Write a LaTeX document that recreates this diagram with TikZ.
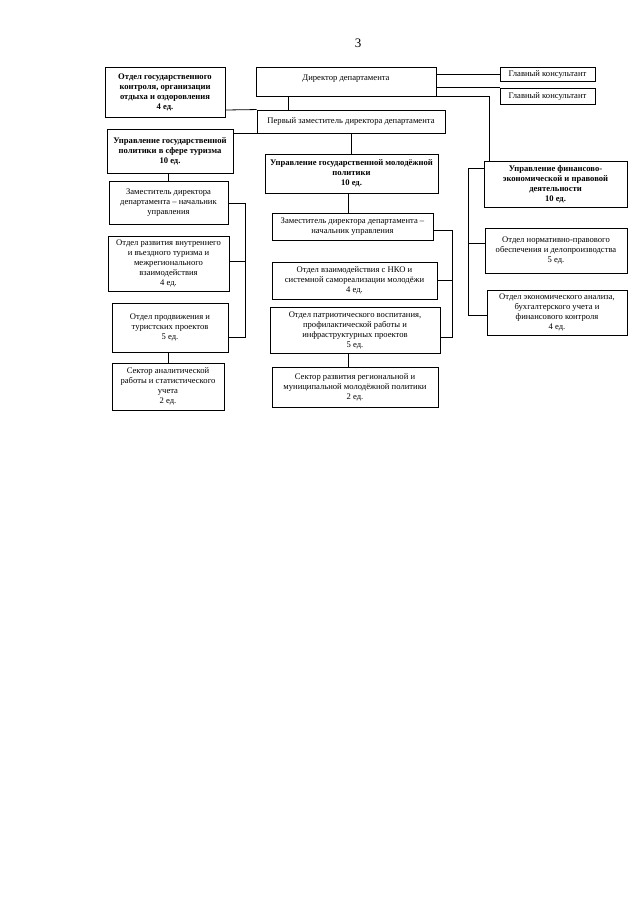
\documentclass[tikz,border=0pt]{standalone}
\usepackage{fontspec}
\setmainfont{Liberation Serif}
\begin{document}
\begin{tikzpicture}[x=1pt,y=-1pt,
  bx/.style={draw, line width=0.9pt, align=center, inner sep=1pt, font=\fontsize{8.6}{10}\selectfont},
  bxb/.style={bx, font=\fontsize{8.6}{10}\selectfont\bfseries},
  ln/.style={line width=0.8pt}]
\useasboundingbox (0,0) rectangle (640,905);
\node[font=\fontsize{13}{13}\selectfont] (pg) at (358,43) {3};
% top row
\node[bxb, minimum width=120, minimum height=50] (box1) at (165,92) {Отдел государственного\\контроля, организации\\отдыха и оздоровления\\4 ед.};
\node[bx, minimum width=180, minimum height=29] (dir) at (346,81.5) {Директор департамента\\[-2pt]};
\node[bx, minimum width=95, minimum height=14] (gk1) at (547.5,74) {Главный консультант};
\node[bx, minimum width=95, minimum height=16] (gk2) at (547.5,96) {Главный консультант};
\node[bx, minimum width=188, minimum height=23] (pz) at (351,121.5) {Первый заместитель директора департамента};
% left column
\node[bxb, minimum width=126, minimum height=44] (tur) at (170,151) {Управление государственной\\политики в сфере туризма\\10 ед.};
\node[bx, minimum width=119, minimum height=43] (tz) at (168.5,202.5) {Заместитель директора\\департамента – начальник\\управления};
\node[bx, minimum width=121, minimum height=55] (tr) at (168.5,263.5) {Отдел развития внутреннего\\и въездного туризма и\\межрегионального\\взаимодействия\\4 ед.};
\node[bx, minimum width=116, minimum height=49] (tp) at (170,327.5) {Отдел продвижения и\\туристских проектов\\5 ед.};
\node[bx, minimum width=112, minimum height=47] (ts) at (168,386.5) {Сектор аналитической\\работы и статистического\\учета\\2 ед.};
% middle column
\node[bxb, minimum width=173, minimum height=39] (mol) at (351.5,173.5) {Управление государственной молодёжной\\политики\\10 ед.};
\node[bx, minimum width=161, minimum height=27] (mz) at (352.5,226.5) {Заместитель директора департамента –\\начальник управления};
\node[bx, minimum width=165, minimum height=37] (mn) at (354.5,280.5) {Отдел взаимодействия с НКО и\\системной самореализации молодёжи\\4 ед.};
\node[bx, minimum width=170, minimum height=46] (mp) at (355,330) {Отдел патриотического воспитания,\\профилактической работы и\\инфраструктурных проектов\\5 ед.};
\node[bx, minimum width=166, minimum height=40] (ms) at (355,387) {Сектор развития региональной и\\муниципальной молодёжной политики\\2 ед.};
% right column
\node[bxb, minimum width=143, minimum height=46] (fin) at (555.5,184) {Управление финансово-\\экономической и правовой\\деятельности\\10 ед.};
\node[bx, minimum width=142, minimum height=45] (fn) at (556,250.5) {Отдел нормативно-правового\\обеспечения и делопроизводства\\5 ед.};
\node[bx, minimum width=140, minimum height=45] (fe) at (557,312.5) {Отдел экономического анализа,\\бухгалтерского учета и\\финансового контроля\\4 ед.};
% helper coordinates
\coordinate (c1) at (288,0);
\coordinate (c2) at (489,0);
\coordinate (b3t) at (468,168);
\coordinate (b3m) at (0,243);
\coordinate (b3b) at (0,315);
\coordinate (c4) at (168,0);
\coordinate (bl) at (245,203);
\coordinate (blm) at (0,261);
\coordinate (blb) at (0,337);
\coordinate (c5) at (348,0);
\coordinate (bm) at (452,230);
\coordinate (bmm) at (0,280);
\coordinate (bmb) at (0,337);
\coordinate (y110) at (0,110);
% connectors
\draw[ln] (box1.east |- y110) -- (pz.north west);
\draw[ln] (tur.east |- pz.south west) -- (pz.south west);
\draw[ln] (dir.south -| c1) -- (pz.north -| c1);
\draw[ln] (pz.south) -- (pz.south |- mol.north);
\draw[ln] (dir.east |- gk1.west) -- (gk1.west);
\draw[ln] (dir.east |- gk2.north west) -- (gk2.north west);
\draw[ln] (dir.south east) -- (dir.south east -| c2) -- (fin.north -| c2);
\draw[ln] (fin.west |- b3t) -- (b3t) -- (b3t |- b3b) -- (fe.west |- b3b);
\draw[ln] (b3t |- b3m) -- (fn.west |- b3m);
\draw[ln] (tur.south -| c4) -- (tz.north -| c4);
\draw[ln] (tz.east |- bl) -- (bl) -- (bl |- blb) -- (tp.east |- blb);
\draw[ln] (tr.east |- blm) -- (bl |- blm);
\draw[ln] (tp.south -| c4) -- (ts.north -| c4);
\draw[ln] (mol.south -| c5) -- (mz.north -| c5);
\draw[ln] (mz.east |- bm) -- (bm) -- (bm |- bmb) -- (mp.east |- bmb);
\draw[ln] (mn.east |- bmm) -- (bm |- bmm);
\draw[ln] (mp.south -| c5) -- (ms.north -| c5);
\end{tikzpicture}
\end{document}
